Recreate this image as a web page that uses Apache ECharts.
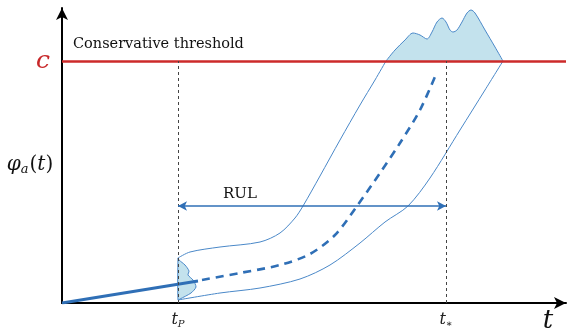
<!DOCTYPE html>
<html><head><meta charset="utf-8">
<script src="https://cdn.jsdelivr.net/npm/echarts@6/dist/echarts.min.js"></script>
<style>html,body{margin:0;padding:0;background:#fff}#c{width:574px;height:331px}</style>
</head><body><div id="c"></div>
<script>
// Data (chart units)
const threshold = 242;
const tP = 116;
const tStar = 384;
const rulLevel = 97;
const solidX = [0, 136];
const solidY = [0, 22];
const meanX = [140, 178, 218, 248, 273, 295, 318, 338, 358, 375];
const meanY = [23, 30, 38, 49, 68, 97, 130, 160, 193, 231];
const upperX = [116, 128, 158, 198, 218, 233, 241, 258, 278, 298, 313, 324];
const upperY = [45, 51, 56, 61, 70, 85, 97, 127, 163, 198, 223, 242];
const lowerX = [116, 158, 198, 238, 268, 298, 323, 346, 368, 398, 423, 441];
const lowerY = [3, 10, 15, 24, 38, 60, 81, 97, 125, 173, 213, 242];
const topDistX = [324, 333, 343, 351, 358, 365, 370, 375, 380, 384, 388, 391, 395, 400, 405, 409, 413, 423, 433, 441];
const topDistY = [242, 253, 263, 270, 268, 264, 271, 281, 285, 281, 273, 271, 273, 281, 290, 293, 290, 273, 256, 242];
const tpDistX = [116, 117, 123, 127, 126, 131, 134, 129, 118, 116];
const tpDistY = [45, 43, 38, 32, 28, 23, 16, 10, 4, 3];
const tickValues = [tP, tStar];

const zip = (xs, ys) => xs.map((x, i) => [x, ys[i]]);
const BLUE = '#2f6fb6', THIN = '#4a88c8', FILL = '#c3e2ed';
const SERIF = 'DejaVu Serif';

const chart = echarts.init(document.getElementById('c'));
chart.setOption({
  animation: false,
  grid: { left: 62, right: 8, top: 8, bottom: 28 },
  xAxis: {
    type: 'value', min: 0, max: 504,
    splitLine: { show: false }, axisTick: { show: false },
    axisLine: { show: true, symbol: ['none', 'arrow'], symbolSize: [9, 12], lineStyle: { color: '#000', width: 2 } },
    axisLabel: {
      customValues: tickValues, margin: 8,
      formatter: v => v === tP ? '{i|t}{s|P}' : '{i|t}{s|∗}',
      rich: {
        i: { fontFamily: SERIF, fontStyle: 'italic', fontSize: 16, color: '#222' },
        s: { fontFamily: SERIF, fontStyle: 'italic', fontSize: 10, color: '#222', padding: [8, 0, 0, 0] }
      }
    }
  },
  yAxis: {
    type: 'value', min: 0, max: 295,
    splitLine: { show: false }, axisTick: { show: false },
    axisLine: { show: true, symbol: ['none', 'arrow'], symbolSize: [9, 12], lineStyle: { color: '#000', width: 2 } },
    axisLabel: {
      customValues: [threshold], margin: 12, formatter: () => 'c',
      color: '#c8282a', fontFamily: SERIF, fontStyle: 'italic', fontSize: 25
    }
  },
  graphic: [
    { type: 'text', left: 73, top: 37, style: { text: 'Conservative threshold', fontFamily: SERIF, fontSize: 14.5, fill: '#111' } },
    { type: 'text', x: 240, y: 194, style: { text: 'RUL', fontFamily: SERIF, fontSize: 15, fill: '#111', align: 'center', verticalAlign: 'middle' } },
    { type: 'text', x: 548, y: 321, style: { text: 't', fontFamily: SERIF, fontStyle: 'italic', fontSize: 26, fill: '#111', align: 'center', verticalAlign: 'middle' } },
    { type: 'text', x: 30, y: 165, style: {
      text: '{i|φ}{s|a}{n|(}{i|t}{n|)}', align: 'center', verticalAlign: 'middle',
      rich: {
        i: { fontFamily: SERIF, fontStyle: 'italic', fontSize: 20, fill: '#111' },
        n: { fontFamily: SERIF, fontSize: 20, fill: '#111' },
        s: { fontFamily: SERIF, fontStyle: 'italic', fontSize: 13, fill: '#111', padding: [9, 1, 0, 0] }
      } } }
  ],
  series: [
    { type: 'line', data: zip(topDistX, topDistY), smooth: 0.3, symbol: 'none', z: 1,
      lineStyle: { color: THIN, width: 1 },
      areaStyle: { color: FILL, opacity: 1, origin: threshold } },
    { type: 'custom', data: [[0, 0]], silent: true, z: 1,
      renderItem: (params, api) => ({
        type: 'polygon',
        shape: { points: zip(tpDistX, tpDistY).map(p => api.coord(p)), smooth: 0.25 },
        style: { fill: FILL, stroke: THIN, lineWidth: 1 }
      }) },
    { type: 'line', data: zip(upperX, upperY), smooth: 0.3, symbol: 'none', z: 2,
      lineStyle: { color: THIN, width: 1 } },
    { type: 'line', data: zip(lowerX, lowerY), smooth: 0.3, symbol: 'none', z: 2,
      lineStyle: { color: THIN, width: 1 } },
    { type: 'line', data: zip(meanX, meanY), smooth: 0.3, symbol: 'none', z: 3,
      lineStyle: { color: BLUE, width: 2.6, type: [8, 6] } },
    { type: 'line', data: zip(solidX, solidY), symbol: 'none', z: 3,
      lineStyle: { color: BLUE, width: 2.8 } },
    { type: 'line', data: [], z: 4,
      markLine: { silent: true, symbol: 'none', label: { show: false },
        lineStyle: { color: '#cc2a2a', width: 2.5, type: 'solid' },
        data: [[{ coord: [0, threshold] }, { coord: [504, threshold] }]] } },
    { type: 'line', data: [], z: 4,
      markLine: { silent: true, symbol: 'none', label: { show: false },
        lineStyle: { color: '#444', width: 1, type: [3, 3] },
        data: [[{ coord: [tP, 0] }, { coord: [tP, threshold] }], [{ coord: [tStar, 0] }, { coord: [tStar, threshold] }]] } },
    { type: 'line', data: [], z: 4,
      markLine: { silent: true, symbol: ['arrow', 'arrow'], symbolSize: [7, 9], label: { show: false },
        lineStyle: { color: BLUE, width: 1.5, type: 'solid' },
        data: [[{ coord: [tP, rulLevel] }, { coord: [tStar, rulLevel] }]] } }
  ]
});
</script></body></html>
